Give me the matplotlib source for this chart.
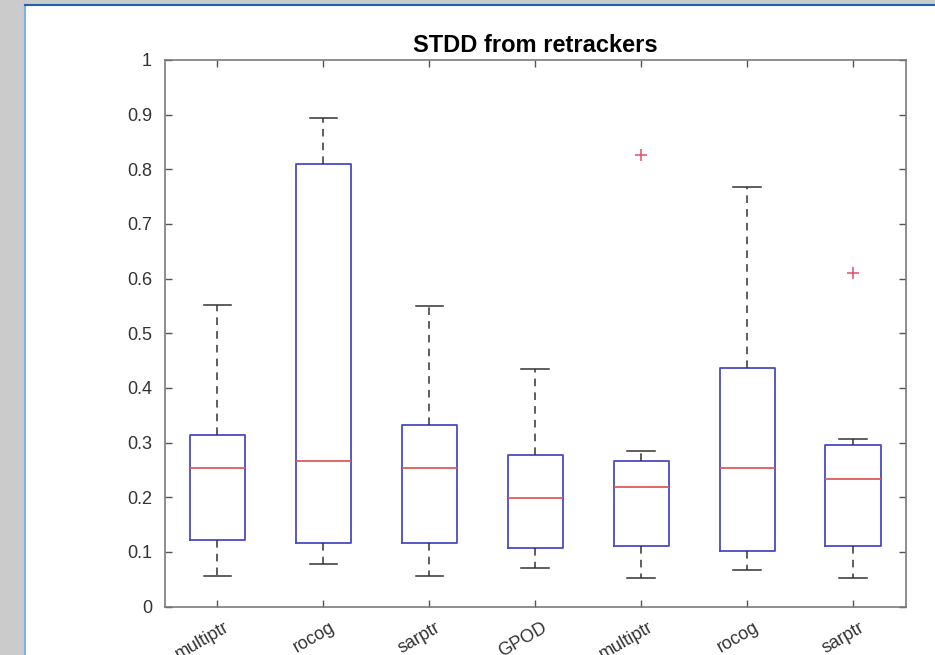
import numpy as np
import matplotlib
matplotlib.use("Agg")
import matplotlib.pyplot as plt
import matplotlib.transforms as mtransforms
from matplotlib.patches import Rectangle
from matplotlib.lines import Line2D

# values
labels = ["multiptr", "rocog", "sarptr", "GPOD", "multiptr", "rocog", "sarptr"]
whislo = [0.055, 0.077, 0.055, 0.070, 0.052, 0.066, 0.052]
q1 = [0.121, 0.117, 0.117, 0.107, 0.110, 0.101, 0.111]
med = [0.254, 0.267, 0.254, 0.199, 0.219, 0.254, 0.234]
q3 = [0.313, 0.810, 0.332, 0.277, 0.266, 0.437, 0.296]
whishi = [0.551, 0.893, 0.550, 0.435, 0.284, 0.768, 0.307]
fliers = [[], [], [], [], [0.827], [], [0.611]]

plt.rcParams['font.family'] = ['Liberation Sans', 'DejaVu Sans']

fig = plt.figure(figsize=(9.35, 6.55), dpi=100)
fig.patch.set_facecolor('#cbcbcb')

# white page with thin blue border (screenshot frame)
W, H = 935.0, 655.0
fig.patches.append(Rectangle((25 / W, 0), 1 - 25 / W, (H - 5) / H,
                             transform=fig.transFigure, facecolor='white',
                             edgecolor='none', zorder=-10))
fig.lines.append(Line2D([24.5 / W, 24.5 / W], [0, (H - 4.5) / H],
                        transform=fig.transFigure, color='#7fb2e2', lw=1.5,
                        zorder=-5))
fig.lines.append(Line2D([24.5 / W, 1], [(H - 4.5) / H, (H - 4.5) / H],
                        transform=fig.transFigure, color='#1f63ad', lw=1.5,
                        zorder=-5))

ax = fig.add_axes([164.5 / W, (H - 606.5) / H, 741.5 / W, 546.5 / H])
ax.set_zorder(5)

stats = []
for i in range(len(labels)):
    stats.append(dict(whislo=whislo[i], q1=q1[i], med=med[i], q3=q3[i],
                      whishi=whishi[i], fliers=fliers[i], label=labels[i]))

ax.bxp(stats, positions=range(1, 8), widths=0.52, showfliers=True,
       boxprops=dict(color='#4a4ac4', lw=1.3),
       medianprops=dict(color='#e05a5a', lw=1.3),
       whiskerprops=dict(color='#333333', lw=1.1, linestyle=(0, (5, 4))),
       capprops=dict(color='#333333', lw=1.1),
       flierprops=dict(marker='+', markeredgecolor='#e0506a', markersize=9,
                       markeredgewidth=1.1, linestyle='none'))

ax.set_xlim(0.5, 7.5)
ax.set_ylim(0, 1)
ax.set_yticks(np.arange(0, 1.01, 0.1))
ax.set_yticklabels(["0", "0.1", "0.2", "0.3", "0.4", "0.5", "0.6", "0.7",
                    "0.8", "0.9", "1"])
ax.set_xticks(range(1, 8))
ax.set_xticklabels(labels, rotation=30, ha='right', va='top',
                   rotation_mode='anchor')

for sp in ax.spines.values():
    sp.set_color('#7a7a7a')
    sp.set_linewidth(1.2)
ax.tick_params(direction='in', top=True, right=True, length=5, width=1,
               color='#555555', labelcolor='#333333', labelsize=13)
ax.tick_params(axis='y', pad=9)
ax.tick_params(axis='x', pad=9)

offset = mtransforms.ScaledTranslation(6 / 100, 0, fig.dpi_scale_trans)
for lab in ax.get_xticklabels():
    lab.set_transform(lab.get_transform() + offset)

ax.set_title("STDD from retrackers", fontsize=17, fontweight='bold', pad=6)

fig.savefig("out.png", dpi=100, facecolor=fig.get_facecolor())
